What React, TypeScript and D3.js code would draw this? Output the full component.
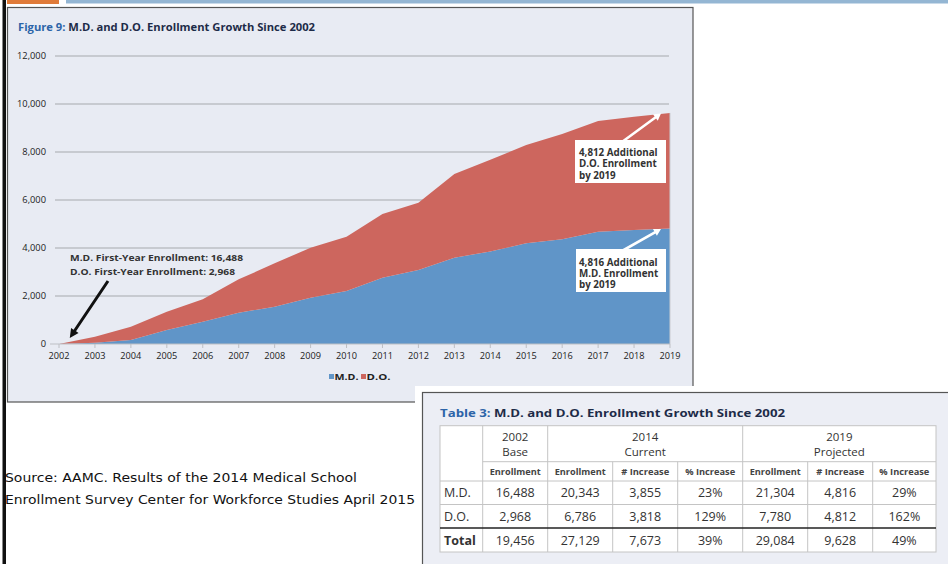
import React from "react";
import * as d3 from "d3";

const years = [2002, 2003, 2004, 2005, 2006, 2007, 2008, 2009, 2010, 2011, 2012, 2013, 2014, 2015, 2016, 2017, 2018, 2019];
const mdGrowth = [0, 50, 170, 583, 930, 1305, 1555, 1930, 2208, 2764, 3083, 3597, 3855, 4194, 4361, 4681, 4750, 4816];
const doGrowth = [0, 255, 552, 764, 931, 1389, 1806, 2084, 2264, 2653, 2806, 3486, 3818, 4098, 4389, 4611, 4722, 4812];
const yTicks = [0, 2000, 4000, 6000, 8000, 10000, 12000];
const seriesKeys = ["md", "do"];
const seriesLabels = ["M.D.", "D.O."];
const seriesColors = ["#6095C8", "#CD665E"];

const tableRowLabels = ["M.D.", "D.O.", "Total"];
const enroll2002 = ["16,488", "2,968", "19,456"];
const enroll2014 = ["20,343", "6,786", "27,129"];
const inc2014 = ["3,855", "3,818", "7,673"];
const pct2014 = ["23%", "129%", "39%"];
const enroll2019 = ["21,304", "7,780", "29,084"];
const inc2019 = ["4,816", "4,812", "9,628"];
const pct2019 = ["29%", "162%", "49%"];
const groupHeaders = [["2002", "Base"], ["2014", "Current"], ["2019", "Projected"]];
const subHeaders = ["Enrollment", "Enrollment", "# Increase", "% Increase", "Enrollment", "# Increase", "% Increase"];

const FONT = "'Open Sans', 'Noto Sans', sans-serif";

function arrowPoly(x1: number, y1: number, x2: number, y2: number, w: number, hl: number, hw: number) {
  const dx = x2 - x1, dy = y2 - y1;
  const L = Math.sqrt(dx * dx + dy * dy);
  const ux = dx / L, uy = dy / L;
  const px = -uy, py = ux;
  const bx = x2 - ux * hl, by = y2 - uy * hl;
  const pts = [
    [x1 + px * w / 2, y1 + py * w / 2],
    [bx + px * w / 2, by + py * w / 2],
    [bx + px * hw / 2, by + py * hw / 2],
    [x2, y2],
    [bx - px * hw / 2, by - py * hw / 2],
    [bx - px * w / 2, by - py * w / 2],
    [x1 - px * w / 2, y1 - py * w / 2],
  ];
  return pts.map((p) => p.join(",")).join(" ");
}

export default function App() {
  const x = d3.scaleLinear().domain([2002, 2019]).range([59, 670]);
  const y = d3.scaleLinear().domain([0, 12000]).range([344, 56]);
  const rows = years.map((yr, i) => ({ year: yr, md: mdGrowth[i], do: doGrowth[i] }));
  const stack = d3.stack<any>().keys(seriesKeys)(rows);
  const area = d3
    .area<any>()
    .x((d) => x(d.data.year))
    .y0((d) => y(d[0]))
    .y1((d) => y(d[1]));

  const lastTotal = mdGrowth[mdGrowth.length - 1] + doGrowth[doGrowth.length - 1];
  const lastMd = mdGrowth[mdGrowth.length - 1];

  const colX = [440, 482.7, 547.7, 612.7, 677.7, 742.7, 807.7, 872.7, 936];
  const rowY = [425.7, 461.7, 481, 504.5, 528, 552];
  const tableCols = [enroll2002, enroll2014, inc2014, pct2014, enroll2019, inc2019, pct2019];
  const groupSpans = [[1, 2], [2, 5], [5, 8]];
  const subWidths = [51, 51, 48, 50, 51, 48, 50];
  const cellStroke = "#c4c4c4";
  const textCol = "#333";

  return (
    <svg
      width={948}
      height={564}
      style={{ position: "absolute", left: 0, top: 0, background: "#fff" }}
      fontFamily={FONT}
    >
      <rect x={0} y={0} width={948} height={564} fill="#fff" />
      <rect x={7} y={0} width={52} height={4} fill="#E07B39" />
      <rect x={66} y={0} width={882} height={3.5} fill="#94B6D3" />
      <rect x={2.5} y={0} width={3.5} height={564} fill="#111" />

      {/* chart panel */}
      <rect x={7.5} y={7.5} width={685.5} height={394.5} fill="#E8EBF3" stroke="#555" strokeWidth={1.2} />
      <text x={18} y={31} fontSize={10.5} fontWeight="bold" textLength={297} lengthAdjust="spacingAndGlyphs">
        <tspan fill="#2C64A8">Figure 9: </tspan>
        <tspan fill="#1D2B48">M.D. and D.O. Enrollment Growth Since 2002</tspan>
      </text>

      {yTicks.map((t) => (
        <g key={t}>
          {t > 0 && <line x1={55} x2={669} y1={y(t)} y2={y(t)} stroke="#BDBFC4" strokeWidth={1.6} />}
          <text x={46} y={y(t) + 3.2} fontSize={9.3} textAnchor="end" fill="#222">
            {d3.format(",")(t)}
          </text>
        </g>
      ))}

      {stack.map((s, i) => (
        <path key={s.key} d={area(s) || ""} fill={seriesColors[i]} />
      ))}
      <line x1={x(2019)} x2={x(2019)} y1={y(lastTotal)} y2={y(0)} stroke="#C9CCD2" strokeWidth={1} />

      <line x1={50} x2={x(2019)} y1={y(0)} y2={y(0)} stroke="#BDBFC4" strokeWidth={1} />
      {years.map((yr) => (
        <g key={yr}>
          <line x1={x(yr)} x2={x(yr)} y1={y(0)} y2={y(0) + 4} stroke="#BDBFC4" strokeWidth={1} />
          <text x={x(yr)} y={y(0) + 15} fontSize={9.2} textAnchor="middle" fill="#222">
            {yr}
          </text>
        </g>
      ))}

      {seriesLabels.map((lab, i) => (
        <g key={lab} transform={`translate(${329 + i * 32},0)`}>
          <rect x={0} y={374} width={5} height={5} fill={seriesColors[i]} />
          <text x={5.5} y={380} fontSize={9.2} fontWeight="bold" fill="#222" textLength={24} lengthAdjust="spacingAndGlyphs">
            {lab}
          </text>
        </g>
      ))}

      <text x={70} y={260.5} fontSize={9.6} fontWeight="bold" fill={textCol} textLength={173} lengthAdjust="spacingAndGlyphs">
        M.D. First-Year Enrollment: 16,488
      </text>
      <text x={70} y={274.5} fontSize={9.6} fontWeight="bold" fill={textCol} textLength={165} lengthAdjust="spacingAndGlyphs">
        D.O. First-Year Enrollment: 2,968
      </text>
      <polygon points={arrowPoly(108, 281, x(2002.3), y(0) - 6, 3, 9, 9)} fill="#111" />

      <polygon points={arrowPoly(622, 142, x(2018.75), y(lastTotal) + 0.5, 2.6, 7, 8)} fill="#fff" />
      <rect x={575} y={140} width={91} height={43} fill="#fff" />
      {["4,812 Additional", "D.O. Enrollment", "by 2019"].map((t, i) => (
        <text key={t} x={579} y={155.5 + i * 11.8} fontSize={9.8} fontWeight="bold" fill={textCol}>
          {t}
        </text>
      ))}
      <polygon points={arrowPoly(622, 251, x(2018.75), y(lastMd) + 0.5, 2.6, 7, 8)} fill="#fff" />
      <rect x={576} y={249} width={90} height={43} fill="#fff" />
      {["4,816 Additional", "M.D. Enrollment", "by 2019"].map((t, i) => (
        <text key={t} x={579} y={265.5 + i * 11.3} fontSize={9.8} fontWeight="bold" fill={textCol}>
          {t}
        </text>
      ))}

      <text x={5} y={482} fontSize={13} fill="#111" fontFamily="'DejaVu Sans', sans-serif" textLength={352} lengthAdjust="spacingAndGlyphs">
        Source: AAMC. Results of the 2014 Medical School
      </text>
      <text x={5} y={504} fontSize={13} fill="#111" fontFamily="'DejaVu Sans', sans-serif" textLength={410} lengthAdjust="spacingAndGlyphs">
        Enrollment Survey Center for Workforce Studies April 2015
      </text>

      {/* table image */}
      <rect x={415} y={386} width={533} height={178} fill="#fff" />
      <rect x={422.5} y={392.5} width={540} height={190} fill="#ECEEF5" stroke="#555" strokeWidth={1.2} />
      <text x={440} y={417} fontSize={11} fontWeight="bold" textLength={345} lengthAdjust="spacingAndGlyphs">
        <tspan fill="#2C64A8">Table 3: </tspan>
        <tspan fill="#1D2B48">M.D. and D.O. Enrollment Growth Since 2002</tspan>
      </text>
      <rect x={colX[0]} y={rowY[0]} width={colX[8] - colX[0]} height={rowY[5] - rowY[0]} fill="#fff" stroke={cellStroke} strokeWidth={1} />
      {groupSpans.map(([a, b], i) => (
        <g key={i}>
          <line x1={colX[a]} x2={colX[a]} y1={rowY[0]} y2={rowY[5]} stroke={cellStroke} strokeWidth={1} />
          <text x={(colX[a] + colX[b]) / 2} y={rowY[0] + 15} fontSize={11.5} textAnchor="middle" fill={textCol}>
            {groupHeaders[i][0]}
          </text>
          <text x={(colX[a] + colX[b]) / 2} y={rowY[0] + 30} fontSize={11.5} textAnchor="middle" fill={textCol}>
            {groupHeaders[i][1]}
          </text>
        </g>
      ))}
      {colX.slice(2, 8).map((cx, i) =>
        [2, 5].includes(i + 2) ? null : (
          <line key={i} x1={cx} x2={cx} y1={rowY[1]} y2={rowY[5]} stroke={cellStroke} strokeWidth={1} />
        )
      )}
      {[1, 2, 3].map((r) => (
        <line key={r} x1={r === 1 ? colX[1] : colX[0]} x2={colX[8]} y1={rowY[r]} y2={rowY[r]} stroke={cellStroke} strokeWidth={1} />
      ))}
      <line x1={colX[0]} x2={colX[8]} y1={rowY[4]} y2={rowY[4]} stroke="#222" strokeWidth={1.6} />
      {subHeaders.map((h, i) => (
        <text key={i} x={(colX[i + 1] + colX[i + 2]) / 2} y={rowY[1] + 13} fontSize={8.5} fontWeight="bold" textAnchor="middle" fill="#444" textLength={subWidths[i]} lengthAdjust="spacingAndGlyphs">
          {h}
        </text>
      ))}
      {tableRowLabels.map((lab, r) => (
        <g key={lab}>
          <text x={444} y={(rowY[r + 2] + rowY[r + 3]) / 2 + 4.5} fontSize={12.5} fontWeight={r === 2 ? "bold" : "normal"} fill={textCol}>
            {lab}
          </text>
          {tableCols.map((col, c) => (
            <text key={c} x={(colX[c + 1] + colX[c + 2]) / 2} y={(rowY[r + 2] + rowY[r + 3]) / 2 + 4.5} fontSize={12.5} textAnchor="middle" fill={textCol}>
              {col[r]}
            </text>
          ))}
        </g>
      ))}
    </svg>
  );
}
